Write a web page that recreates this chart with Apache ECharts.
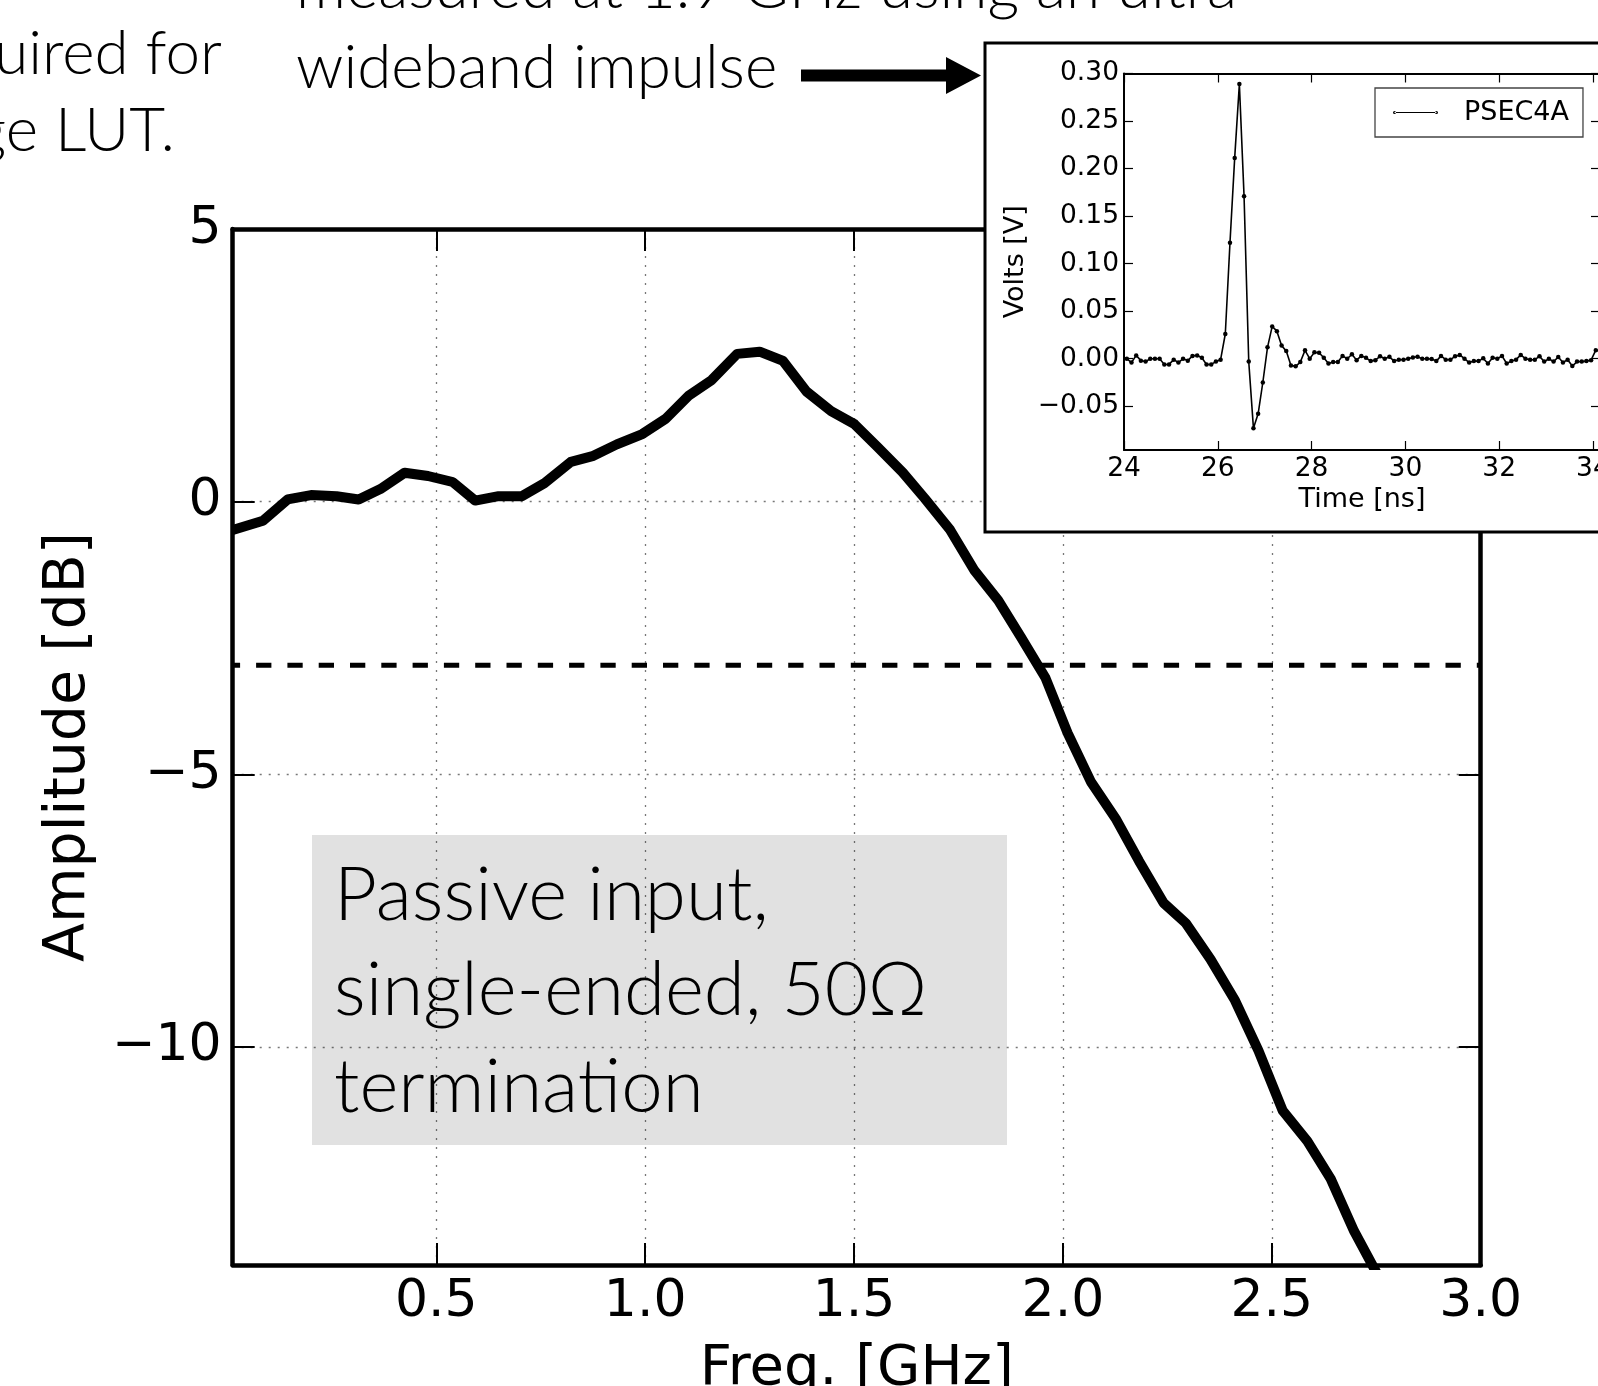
<!DOCTYPE html>
<html><head><meta charset="utf-8">
<script src="https://cdn.jsdelivr.net/npm/echarts@6/dist/echarts.min.js"></script>
<style>html,body{margin:0;padding:0;background:#fff}#c{width:1598px;height:1386px}</style>
</head><body><div id="c"></div>
<script>
// ---- main chart: frequency response ----
const freqGHz = [0.0125,0.085,0.144,0.200,0.261,0.314,0.366,0.424,0.480,0.539,0.593,0.649,0.705,0.759,0.822,0.876,0.932,0.993,1.049,1.105,1.159,1.220,1.274,1.330,1.386,1.445,1.501,1.555,1.616,1.669,1.730,1.787,1.845,1.899,1.958,2.011,2.067,2.126,2.182,2.241,2.294,2.353,2.412,2.468,2.526,2.585,2.641,2.697,2.756];
const ampDB = [-0.52,-0.35,0.04,0.12,0.10,0.04,0.23,0.53,0.47,0.36,0.02,0.10,0.10,0.34,0.73,0.84,1.05,1.24,1.52,1.95,2.23,2.71,2.75,2.58,2.02,1.66,1.42,1.01,0.54,0.06,-0.52,-1.25,-1.81,-2.48,-3.23,-4.24,-5.14,-5.81,-6.59,-7.36,-7.73,-8.39,-9.15,-10.07,-11.17,-11.73,-12.42,-13.38,-14.22];
const minus3dBLevel = -3;
const freqRange = [0.0125, 3.0];
const ampRange = [-14, 5];
const freqTicks = [0.5, 1.0, 1.5, 2.0, 2.5, 3.0];
const ampTicks = [5, 0, -5, -10];

// ---- inset: impulse response ----
const timeNs = [23.96,24.06,24.16,24.26,24.36,24.46,24.56,24.66,24.76,24.86,
24.96,25.06,25.16,25.26,25.36,25.46,25.56,25.66,25.76,25.86,
25.96,26.06,26.16,26.26,26.36,26.46,26.56,26.66,26.76,26.86,
26.96,27.06,27.16,27.26,27.36,27.46,27.56,27.66,27.76,27.86,
27.96,28.06,28.16,28.26,28.36,28.46,28.56,28.66,28.76,28.86,
28.96,29.06,29.16,29.26,29.36,29.46,29.56,29.66,29.76,29.86,
29.96,30.06,30.16,30.26,30.36,30.46,30.56,30.66,30.76,30.86,
30.96,31.06,31.16,31.26,31.36,31.46,31.56,31.66,31.76,31.86,
31.96,32.06,32.16,32.26,32.36,32.46,32.56,32.66,32.76,32.86,
32.96,33.06,33.16,33.26,33.36,33.46,33.56,33.66,33.76,33.86,
33.96,34.06,34.16];
const volts = [0.001,0.000,-0.004,0.0035,-0.002,-0.003,0.000,0.000,0.000,-0.006,
-0.006,-0.001,-0.004,0.000,-0.002,0.003,0.0035,0.001,-0.006,-0.006,
-0.003,-0.001,0.026,0.122,0.211,0.289,0.171,-0.003,-0.073,-0.058,
-0.025,0.012,0.034,0.029,0.014,0.008,-0.007,-0.008,-0.0035,0.0088,
0.000,0.0067,0.0063,0.001,-0.005,-0.0035,-0.0035,0.003,0.000,0.0046,
-0.0015,0.003,0.001,-0.0025,-0.0015,0.0025,0.000,0.002,-0.0025,-0.001,
-0.001,0.000,0.0014,0.002,0.000,0.000,-0.0004,-0.0025,0.003,-0.001,
-0.001,0.0025,0.004,0.000,-0.004,-0.0025,-0.0025,0.0004,-0.005,0.001,
0.000,0.003,-0.005,-0.0025,-0.001,0.004,0.000,-0.001,-0.001,0.0025,
-0.003,0.000,-0.003,0.0018,-0.004,-0.001,-0.0077,-0.003,-0.003,-0.0025,
-0.0015,0.009,0.008];
const timeRange = [24, 34.15];
const voltRange = [-0.096, 0.30];
const timeTicks = [24, 26, 28, 30, 32, 34];
const voltTicks = [0.30, 0.25, 0.20, 0.15, 0.10, 0.05, 0.00, -0.05];
const insetSeriesName = 'PSEC4A';

// ---- slide texts ----
const slideTopLine = 'measured at 1.9 GHz using an ultra';
const slideSecondLine = 'wideband impulse';
const slideLeftLines = ['uired for', 'ge LUT.'];
const boxLines = ['Passive input,', 'single-ended, 50\u03A9', 'termination'];

const MINUS = '\u2212';
const fmtInt = v => (v < 0 ? MINUS : '') + Math.abs(v);
const fmt2 = v => (v < 0 ? MINUS : '') + Math.abs(v).toFixed(2);
const DJ = 'DejaVu Sans';
const SLIDE = 'Lato';
const SLIDE_FS = 62;
const BOX_FS = 74.5;

const mainAxisLine = { show: true, onZero: false, lineStyle: { color: '#000', width: 4.5 } };
const insetAxisLine = { show: true, onZero: false, lineStyle: { color: '#000', width: 2 } };
const gridDots = { show: true, lineStyle: { color: '#777', width: 1.3, type: [2, 7] } };
const mainTick = ticks => ({ show: true, inside: true, length: 22, lineStyle: { width: 2, color: '#000' }, customValues: ticks });
const insetTick = ticks => ({ show: true, inside: true, length: 9, lineStyle: { width: 1.2, color: '#000' }, customValues: ticks });

const slideText = (text, x, baseline, fs, align) => ({
  type: 'text', z: 30,
  style: { text, x, y: baseline - 0.32 * fs, fontSize: fs, fontFamily: SLIDE, fontWeight: 300, fill: '#000', textAlign: align, textVerticalAlign: 'middle' }
});

const chart = echarts.init(document.getElementById('c'), null, { renderer: 'canvas' });

const option = {
  animation: false,
  backgroundColor: '#fff',
  grid: [
    { left: 232.7, top: 229, width: 1248, height: 1036, outerBoundsMode: 'none', containLabel: false },
    { left: 1124, top: 73.5, width: 476, height: 376.5, outerBoundsMode: 'none', containLabel: false }
  ],
  xAxis: [
    { type: 'value', gridIndex: 0, min: freqRange[0], max: freqRange[1], position: 'bottom',
      axisLine: mainAxisLine, axisTick: mainTick(freqTicks),
      axisLabel: { customValues: freqTicks, formatter: v => v.toFixed(1), margin: 11, fontSize: 52, fontFamily: DJ, color: '#000' },
      splitLine: gridDots,
      name: 'Freq. [GHz]', nameLocation: 'middle', nameGap: 76,
      nameTextStyle: { fontSize: 56, fontFamily: DJ, color: '#000' } },
    { type: 'value', gridIndex: 0, min: freqRange[0], max: freqRange[1], position: 'top',
      axisLine: mainAxisLine, axisTick: mainTick(freqTicks),
      axisLabel: { show: false }, splitLine: { show: false } },
    { type: 'value', gridIndex: 1, min: timeRange[0], max: timeRange[1], position: 'bottom', z: 20,
      axisLine: insetAxisLine, axisTick: insetTick(timeTicks),
      axisLabel: { customValues: timeTicks, margin: 6, fontSize: 26.5, fontFamily: DJ, color: '#000' },
      splitLine: { show: false },
      name: 'Time [ns]', nameLocation: 'middle', nameGap: 36,
      nameTextStyle: { fontSize: 27, fontFamily: DJ, color: '#000' } },
    { type: 'value', gridIndex: 1, min: timeRange[0], max: timeRange[1], position: 'top', z: 20,
      axisLine: insetAxisLine, axisTick: insetTick(timeTicks),
      axisLabel: { show: false }, splitLine: { show: false } }
  ],
  yAxis: [
    { type: 'value', gridIndex: 0, min: ampRange[0], max: ampRange[1], position: 'left',
      axisLine: mainAxisLine, axisTick: mainTick(ampTicks),
      axisLabel: { customValues: ampTicks, formatter: fmtInt, margin: 11, fontSize: 52, fontFamily: DJ, color: '#000' },
      splitLine: gridDots,
      name: 'Amplitude [dB]', nameLocation: 'middle', nameGap: 135,
      nameTextStyle: { fontSize: 57, fontFamily: DJ, color: '#000' } },
    { type: 'value', gridIndex: 0, min: ampRange[0], max: ampRange[1], position: 'right',
      axisLine: mainAxisLine, axisTick: mainTick(ampTicks),
      axisLabel: { show: false }, splitLine: { show: false } },
    { type: 'value', gridIndex: 1, min: voltRange[0], max: voltRange[1], position: 'left', z: 20,
      axisLine: insetAxisLine, axisTick: insetTick(voltTicks),
      axisLabel: { customValues: voltTicks, formatter: fmt2, margin: 5, fontSize: 26.5, fontFamily: DJ, color: '#000' },
      splitLine: { show: false },
      name: 'Volts [V]', nameLocation: 'middle', nameGap: 95,
      nameTextStyle: { fontSize: 27, fontFamily: DJ, color: '#000' } },
    { type: 'value', gridIndex: 1, min: voltRange[0], max: voltRange[1], position: 'right', z: 20,
      axisLine: insetAxisLine, axisTick: insetTick(voltTicks),
      axisLabel: { show: false }, splitLine: { show: false } }
  ],
  legend: {
    data: [insetSeriesName], left: 1375, top: 88, z: 25,
    orient: 'horizontal', selectedMode: false,
    padding: [11, 14, 11, 18],
    backgroundColor: '#fff', borderColor: '#444', borderWidth: 1.3,
    itemWidth: 45, itemHeight: 6,
    icon: 'path://M1.5,2.4 L43.5,2.4 L43.5,3.6 L1.5,3.6 Z M0,3 A1.5,1.5 0 1,0 3,3 A1.5,1.5 0 1,0 0,3 Z M42,3 A1.5,1.5 0 1,0 45,3 A1.5,1.5 0 1,0 42,3 Z',
    itemStyle: { color: '#000' },
    textStyle: { fontSize: 27, fontFamily: DJ, color: '#000', padding: [0, 0, 0, 21] }
  },
  series: [
    { type: 'line', xAxisIndex: 0, yAxisIndex: 0, z: 3, symbol: 'none', clip: true,
      data: freqGHz.map((f, i) => [f, ampDB[i]]),
      lineStyle: { color: '#000', width: 10, join: 'round', cap: 'butt' } },
    { type: 'line', xAxisIndex: 0, yAxisIndex: 0, z: 2, symbol: 'none', clip: true,
      data: [[freqRange[0], minus3dBLevel], [freqRange[1], minus3dBLevel]],
      lineStyle: { color: '#000', width: 5, type: [15.3, 16], dashOffset: 7.9 } },
    { type: 'line', name: insetSeriesName, xAxisIndex: 2, yAxisIndex: 2, z: 21, clip: true,
      symbol: 'circle', symbolSize: 4.5, showSymbol: true,
      data: timeNs.map((t, i) => [t, volts[i]]),
      lineStyle: { color: '#000', width: 1.6 }, itemStyle: { color: '#000' } }
  ],
  graphic: [
    { type: 'rect', z: 5, shape: { x: 312, y: 835, width: 695, height: 310 },
      style: { fill: 'rgba(0,0,0,0.118)' } },
    { type: 'rect', z: 10, shape: { x: 985, y: 43, width: 700, height: 489 },
      style: { fill: '#fff', stroke: '#000', lineWidth: 3 } },
    { type: 'polygon', z: 30, shape: { points: [[801, 69.5], [946, 69.5], [946, 57], [981, 75.5], [946, 94], [946, 81.5], [801, 81.5]] },
      style: { fill: '#000' } },
    slideText(slideTopLine, 296, 7.5, SLIDE_FS, 'left'),
    slideText(slideSecondLine, 296, 88, SLIDE_FS, 'left'),
    slideText(slideLeftLines[0], 222, 73.4, SLIDE_FS, 'right'),
    slideText(slideLeftLines[1], 175, 151, SLIDE_FS, 'right'),
    slideText(boxLines[0], 334, 920, BOX_FS, 'left'),
    slideText(boxLines[1], 334, 1015, BOX_FS, 'left'),
    slideText(boxLines[2], 334, 1111.5, BOX_FS, 'left')
  ]
};
chart.setOption(option);
</script>
</body></html>
